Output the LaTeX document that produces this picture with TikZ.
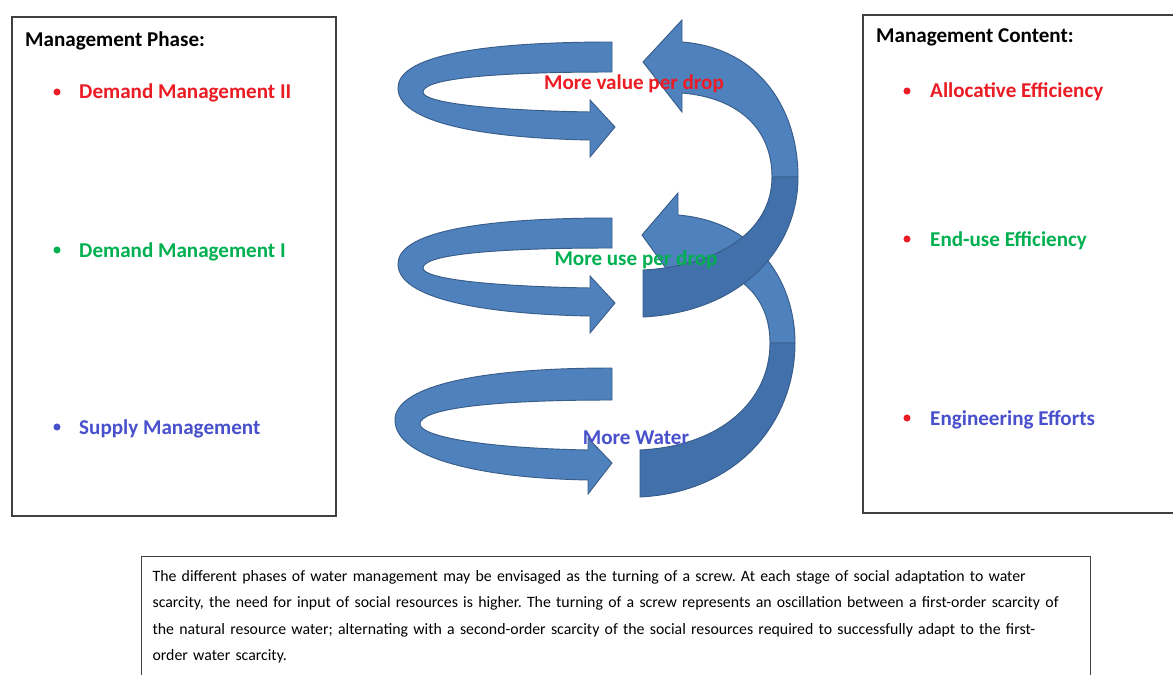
\documentclass[tikz,border=0pt]{standalone}
\usepackage{fontspec}
\setmainfont{Carlito}
\definecolor{screwblue}{RGB}{79,129,189}
\definecolor{screwdark}{RGB}{66,112,170}
\definecolor{screwedge}{RGB}{56,93,138}
\definecolor{txtred}{RGB}{235,28,36}
\definecolor{txtgreen}{RGB}{0,176,80}
\definecolor{txtblue}{RGB}{72,80,204}
\tikzset{
  panel/.style={draw=black!75, line width=1pt},
  title/.style={font=\fontsize{18}{20}\selectfont\bfseries, anchor=base west, inner sep=0pt},
  item/.style={font=\fontsize{18}{20}\selectfont\bfseries, anchor=base west, inner sep=0pt},
  dot/.style={circle, fill, inner sep=0pt, minimum size=6pt},
  screw/.style={fill=screwblue, draw=screwedge, line width=0.8pt},
  screwback/.style={fill=screwdark, draw=screwedge, line width=0.8pt},
}
\begin{document}
\begin{tikzpicture}[x=0.03cm, y=-0.03cm]
\clip (0,0) rectangle (1173,675);
\fill[white] (0,0) rectangle (1173,675);
% side panels
\draw[panel] (12,17) rectangle (336,516);
\draw[panel] (863,15) rectangle (1190,513);
\node[title] (phase) at (25,47) {Management Phase:};
\node[dot, txtred] (b1) at (57,92) {};
\node[item, txtred] (dm2) at (79,99) {Demand Management II};
\node[dot, txtgreen] (b2) at (57,250) {};
\node[item, txtgreen] (dm1) at (79,257) {Demand Management I};
\node[dot, txtblue] (b3) at (57,427) {};
\node[item, txtblue] (sm) at (79,434) {Supply Management};
\node[title] (content) at (876,43) {Management Content:};
\node[dot, txtred] (c1) at (907,91) {};
\node[item, txtred] (ae) at (930,98) {Allocative Efficiency};
\node[dot, txtred] (c2) at (907,239) {};
\node[item, txtgreen] (ee) at (930,246) {End-use Efficiency};
\node[dot, txtred] (c3) at (907,418) {};
\node[item, txtblue] (eng) at (930,425) {Engineering Efforts};
% screw, left turns
\draw[screw] (612,42) .. controls (470,42) and (398,58) .. (398,88) .. controls (398,122) and (480,138) .. (590,140) -- (590,157) -- (615,127) -- (590,100) -- (590,112) .. controls (480,110) and (423,102) .. (423,92) .. controls (423,80) and (480,72) .. (612,72) -- cycle;
\draw[screw] (612,218) .. controls (470,218) and (398,234) .. (398,264) .. controls (398,298) and (480,314) .. (590,316) -- (590,333) -- (615,303) -- (590,276) -- (590,288) .. controls (480,286) and (423,278) .. (423,268) .. controls (423,256) and (480,248) .. (612,248) -- cycle;
\draw[screw] (612,368) .. controls (470,368) and (395,388) .. (395,420) .. controls (395,458) and (480,478) .. (588,480) -- (588,494) -- (612,463) -- (588,438) -- (588,450) .. controls (480,448) and (420,436) .. (420,424) .. controls (420,410) and (480,400) .. (612,400) -- cycle;
% screw, right turns
\draw[screw] (642,235) -- (678,193) -- (678,215) .. controls (760,222) and (795,285) .. (795,343) -- (770,343) .. controls (770,296) and (738,265) .. (678,262) -- (678,285) -- cycle;
\draw[screwback] (795,343) .. controls (795,420) and (740,492) .. (640,497) -- (640,450) .. controls (722,446) and (770,400) .. (770,343) -- cycle;
\draw[screw] (643,62) -- (682,20) -- (682,42) .. controls (760,48) and (798,110) .. (798,177) -- (772,177) .. controls (772,130) and (740,98) .. (682,93) -- (682,112) -- cycle;
\draw[screwback] (798,177) .. controls (798,250) and (740,312) .. (643,317) -- (643,270) .. controls (720,266) and (772,230) .. (772,177) -- cycle;
\node[item, anchor=base, txtred] (lvalue) at (634,89) {More value per drop};
\node[item, anchor=base, txtgreen] (luse) at (636,265) {More use per drop};
\node[item, anchor=base, txtblue] (lwater) at (636,444) {More Water};
% caption
\node[panel, anchor=north west, align=left, inner xsep=0.33cm, inner ysep=0.42cm, text width=27.81cm,
  font=\fontsize{13.5}{22.5}\selectfont\frenchspacing] (note) at (141,556)
  {The different phases of water management may be envisaged as the turning of a screw. At each stage of social adaptation to water\\
   scarcity, the need for input of social resources is higher. The turning of a screw represents an oscillation between a first-order scarcity of\\
   the natural resource water; alternating with a second-order scarcity of the social resources required to successfully adapt to the first-\\
   order water scarcity.};
\end{tikzpicture}
\end{document}
